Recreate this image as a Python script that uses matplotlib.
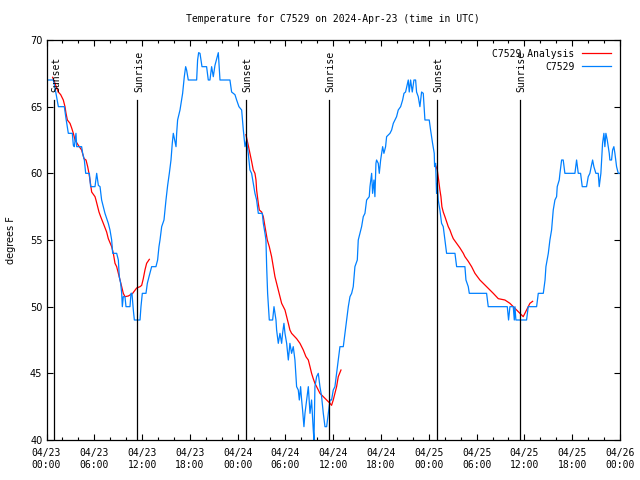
import matplotlib
matplotlib.use("Agg")
import matplotlib.pyplot as plt
import numpy as np

# hours since 2024-04-23 00:00 UTC
obs_hours = [0.23, 0.86, 1.19, 1.49, 2.24, 2.45, 2.74, 3.24, 3.37, 3.49, 3.70, 3.79, 4.41, 4.54, 4.75, 4.92,
             5.38, 5.54, 6.09, 6.30, 6.51, 6.72, 6.92, 7.13, 7.34, 7.76, 7.97, 8.18, 8.31, 8.81, 9.02, 9.14,
             9.31, 9.44, 9.52, 9.64, 9.85, 9.98, 10.48, 10.61, 10.73, 10.90, 11.03, 11.74, 11.86, 12.03, 12.49,
             12.66, 12.87, 13.20, 13.74, 13.95, 14.12, 14.25, 14.46, 14.75, 15.00, 15.21, 15.42, 15.63, 15.79,
             15.92, 16.09, 16.26, 16.34, 16.46, 16.76, 17.09, 17.30, 17.47, 17.59, 17.80, 18.85, 18.97, 19.10,
             19.27, 19.52, 20.10, 20.31, 20.52, 20.73, 20.94, 21.15, 21.57, 21.78, 23.03, 23.24, 23.66, 23.87,
             24.16, 24.50, 24.71, 24.92, 25.13, 25.21, 25.33, 25.54, 25.75, 25.96, 26.17, 26.38, 26.59, 27.09,
             27.22, 27.43, 27.55, 27.64, 27.76, 27.97, 28.39, 28.56, 28.68, 28.81, 28.89, 29.10, 29.31, 29.52,
             29.64, 29.81, 29.94, 30.15, 30.36, 30.56, 30.77, 30.98, 31.19, 31.40, 31.61, 31.74, 31.90, 32.03,
             32.15, 32.32, 32.45, 32.66, 32.87, 33.08, 33.28, 33.49, 33.58, 33.70, 33.91, 34.12, 34.33, 34.54,
             34.75, 34.96, 35.17, 35.38, 35.59, 35.79, 36.00, 36.21, 36.42, 36.63, 36.84, 37.26, 37.47, 37.68,
             37.89, 38.10, 38.31, 38.51, 38.72, 39.02, 39.14, 39.35, 39.56, 39.77, 39.98, 40.19, 40.52, 40.61,
             40.82, 40.94, 41.11, 41.23, 41.36, 41.44, 41.65, 41.78, 41.95, 42.20, 42.36, 42.57, 42.70, 43.12,
             43.33, 43.54, 43.74, 43.95, 44.16, 44.46, 44.71, 44.88, 45.08, 45.42, 45.54, 45.71, 45.92, 46.13,
             46.34, 46.46, 46.67, 46.88, 47.09, 47.30, 47.51, 48.05, 48.22, 48.47, 48.68, 48.72, 48.85, 48.97,
             49.06, 49.18, 49.39, 49.60, 49.81, 50.02, 50.23, 51.28, 51.49, 52.53, 52.66, 52.95, 53.08, 55.25,
             55.46, 57.85, 58.01, 58.18, 58.60, 58.73, 58.81, 58.93, 60.27, 60.48, 61.53, 61.74, 62.37, 62.59,
             62.70, 63.00, 63.20, 63.41, 63.62, 63.83, 64.04, 64.12, 64.37, 64.46, 64.67, 64.87, 65.08, 66.34,
             66.55, 66.76, 67.05, 67.26, 67.80, 68.01, 68.22, 68.35, 68.56, 68.72, 68.97, 69.27, 69.39, 69.60,
             69.81, 69.98, 70.10, 70.23, 70.40, 70.52, 70.65, 70.73, 70.94, 71.07, 71.23, 71.36, 71.57, 71.78,
             72.0]
obs_temps = [67.0, 67.0, 66.0, 65.0, 65.0, 64.1, 63.0, 63.0, 62.1, 62.0, 63.0, 62.0, 62.0, 61.5, 61.0, 60.0,
             60.0, 59.0, 59.0, 60.0, 59.1, 59.0, 58.0, 57.5, 57.0, 56.25, 55.75, 55.0, 54.0, 54.0, 53.5, 52.25,
             51.75, 51.0, 50.0, 50.75, 50.75, 50.0, 50.0, 51.0, 51.0, 49.75, 49.0, 49.0, 50.0, 51.0, 51.0,
             51.75, 52.25, 53.0, 53.0, 53.5, 54.5, 55.0, 56.0, 56.5, 58.0, 59.1, 60.0, 61.0, 62.25,
             63.0, 62.5, 62.0, 63.0, 64.0, 64.75, 66.0, 67.25, 68.0, 67.75, 67.0, 67.0, 68.5, 69.05,
             69.0, 68.0, 68.0, 67.0, 67.0, 68.0, 67.25, 68.1, 69.05, 67.0, 67.0, 66.1, 65.9, 65.5,
             65.0, 64.75, 63.25, 62.0, 62.5, 62.0, 61.5, 60.25, 60.0, 59.25, 58.5, 58.0, 57.0, 57.0,
             56.25, 55.5, 55.0, 53.0, 51.0, 49.0, 49.0, 50.0, 49.5, 49.0, 48.25, 47.25, 48.0, 47.25,
             48.0, 48.75, 48.0, 47.25, 46.0, 47.25, 46.5, 47.0, 46.0, 44.0, 43.75, 43.0, 44.0, 43.0,
             42.25, 41.0, 42.0, 43.0, 44.0, 42.0, 43.0, 40.75, 40.0, 44.0, 44.75, 45.0, 44.0, 43.25,
             42.0, 41.0, 41.0, 42.0, 43.0, 43.0, 43.75, 44.0, 45.0, 46.0, 47.0, 47.0, 48.0, 49.0,
             50.0, 50.75, 51.0, 51.5, 53.0, 53.5, 55.0, 55.5, 56.0, 56.75, 57.0, 58.0, 58.25, 59.0,
             60.0, 58.5, 59.5, 58.25, 60.75, 61.0, 60.75, 60.0, 61.0, 62.0, 61.5, 62.0, 62.75, 63.0,
             63.25, 63.75, 64.0, 64.25, 64.75, 65.0, 65.5, 66.0, 66.1, 67.0, 66.1, 67.0, 66.1, 67.0,
             67.0, 66.1, 65.75, 65.0, 66.1, 66.0, 64.0, 64.0, 63.25, 62.25, 61.5, 60.5, 60.75, 58.5,
             59.25, 58.0, 57.25, 56.25, 56.0, 55.0, 54.0, 54.0, 53.0, 53.0, 52.0, 51.5, 51.0, 51.0,
             50.0, 50.0, 49.0, 50.0, 50.0, 49.0, 50.0, 49.0, 49.0, 50.0, 50.0, 51.0, 51.0, 52.0,
             53.0, 54.0, 55.0, 55.75, 57.25, 58.0, 58.25, 59.0, 59.5, 60.0, 61.0, 61.0, 60.0, 60.0,
             61.0, 60.0, 60.0, 59.0, 59.0, 59.75, 60.0, 60.4, 61.0, 60.5, 60.0, 60.0, 59.0, 60.0,
             62.25, 63.0, 62.0, 63.0, 62.5, 62.0, 61.5, 61.0, 61.0, 61.75, 62.0, 61.5, 60.5, 60.0,
             60.0]

# analysis runs (three separate nights)
ana1_hours = [0.77, 1.07, 1.28, 1.49, 1.78, 2.11, 2.32, 2.45, 2.62, 2.95, 3.16, 3.37, 3.58, 4.00, 4.41, 4.71,
              4.96, 5.17, 5.33, 5.46, 5.67, 6.09, 6.21, 6.59, 6.80, 7.13, 7.55, 7.76, 8.18, 8.39, 8.60, 8.81,
              9.02, 9.23, 9.44, 9.64, 9.85, 10.27, 10.82, 11.32, 11.74, 11.95, 12.15, 12.36, 12.57, 12.91]
ana1_temps = [67.2, 66.75, 66.4, 66.1, 65.9, 65.5, 65.0, 64.5, 64.0, 63.75, 63.4, 63.0, 62.5, 62.1, 61.75, 61.1,
              61.0, 60.5, 60.0, 59.5, 58.6, 58.25, 58.0, 57.1, 56.75, 56.25, 55.6, 55.1, 54.5, 54.0, 53.25, 53.0,
              52.5, 52.0, 51.5, 51.0, 50.75, 50.8, 51.0, 51.4, 51.5, 51.6, 52.1, 52.75, 53.25, 53.55]
ana2_hours = [25.04, 25.33, 25.54, 25.75, 25.96, 26.17, 26.30, 26.38, 26.59, 26.72, 27.01, 27.22, 27.43, 27.72,
              27.97, 28.26, 28.47, 28.68, 28.89, 29.10, 29.31, 29.52, 29.73, 29.94, 30.15, 30.36, 30.56, 30.77,
              31.40, 31.82, 32.24, 32.57, 32.87, 33.08, 33.28, 33.49, 33.70, 33.91, 34.33, 34.75, 35.17, 35.59,
              35.79, 36.00, 36.21, 36.42, 36.63, 36.97]
ana2_temps = [62.9, 62.1, 61.5, 60.9, 60.25, 60.0, 59.5, 58.75, 57.75, 57.25, 57.1, 56.75, 56.0, 55.0,
              54.5, 53.75, 53.0, 52.25, 51.75, 51.25, 50.75, 50.25, 50.0, 49.75, 49.25, 48.75, 48.25, 48.0,
              47.6, 47.25, 46.75, 46.25, 46.0, 45.5, 45.0, 44.6, 44.25, 44.0, 43.5, 43.25, 43.0, 42.75,
              42.6, 43.0, 43.5, 44.0, 44.75, 45.25]
ana3_hours = [48.85, 49.06, 49.23, 49.39, 49.52, 49.64, 49.81, 50.02, 50.44, 50.65, 50.86, 51.07, 51.49, 51.91,
              52.33, 52.53, 52.95, 53.37, 53.79, 54.41, 55.25, 56.09, 56.72, 57.55, 58.18, 58.60, 59.02, 59.44,
              59.85, 60.27, 60.69, 61.03]
ana3_temps = [60.6, 60.25, 59.5, 58.75, 58.25, 57.5, 57.1, 56.75, 56.0, 55.75, 55.4, 55.1, 54.75, 54.4,
              54.0, 53.75, 53.4, 53.0, 52.5, 52.0, 51.5, 51.0, 50.6, 50.5, 50.25, 50.0, 49.75, 49.5,
              49.25, 49.75, 50.25, 50.4]

sunset_hours = [0.98, 25.06, 49.05]
sunrise_hours = [11.40, 35.50, 59.48]

tick_hours = [0, 6, 12, 18, 24, 30, 36, 42, 48, 54, 60, 66, 72]
tick_labels = ['04/23\n00:00', '04/23\n06:00', '04/23\n12:00', '04/23\n18:00',
               '04/24\n00:00', '04/24\n06:00', '04/24\n12:00', '04/24\n18:00',
               '04/25\n00:00', '04/25\n06:00', '04/25\n12:00', '04/25\n18:00',
               '04/26\n00:00']

mono = 'DejaVu Sans Mono'

fig = plt.figure(figsize=(6.4, 4.8), dpi=100)
ax = fig.add_axes([46.5 / 640, 40 / 480, (620 - 46.5) / 640, 400 / 480])

ax.plot(ana1_hours, ana1_temps, color='#ff0000', lw=0.9, label='C7529 Analysis')
ax.plot(ana2_hours, ana2_temps, color='#ff0000', lw=0.9)
ax.plot(ana3_hours, ana3_temps, color='#ff0000', lw=0.9)
ax.plot(obs_hours, obs_temps, color='#0080ff', lw=0.9, label='C7529')

for h in sunset_hours:
    ax.plot([h, h], [40, 65.5], color='black', lw=0.9)
    ax.text(h + 0.2, 66.1, 'Sunset', rotation=90, ha='center', va='bottom',
            family=mono, fontsize=7)
for h in sunrise_hours:
    ax.plot([h, h], [40, 65.5], color='black', lw=0.9)
    ax.text(h + 0.2, 66.1, 'Sunrise', rotation=90, ha='center', va='bottom',
            family=mono, fontsize=7)

ax.set_xlim(0, 72)
ax.set_ylim(40, 70)
ax.set_xticks(tick_hours)
ax.set_xticklabels(tick_labels, family=mono, fontsize=7, linespacing=1.25)
ax.set_xticks(np.arange(0, 73, 2), minor=True)
ax.set_yticks([40, 45, 50, 55, 60, 65, 70])
ax.tick_params(axis='y', labelsize=7)
ax.tick_params(which='major', direction='in', length=4, width=0.8, top=True, right=True, pad=3)
ax.tick_params(which='minor', direction='in', length=2.2, width=0.8, top=True, right=True)
ax.tick_params(axis='x', pad=6)
for s in ax.spines.values():
    s.set_linewidth(0.9)

ax.set_ylabel('degrees F', fontsize=7, labelpad=10)
fig.text(333 / 640, 1 - 19 / 480, 'Temperature for C7529 on 2024-Apr-23 (time in UTC)',
         ha='center', va='center', family=mono, fontsize=7)

leg = ax.legend(loc='upper right', frameon=False, markerfirst=False, handlelength=3,
                prop={'family': mono, 'size': 7}, borderaxespad=0.5, labelspacing=0.3,
                handletextpad=0.8)

fig.savefig('out.png', dpi=100)
